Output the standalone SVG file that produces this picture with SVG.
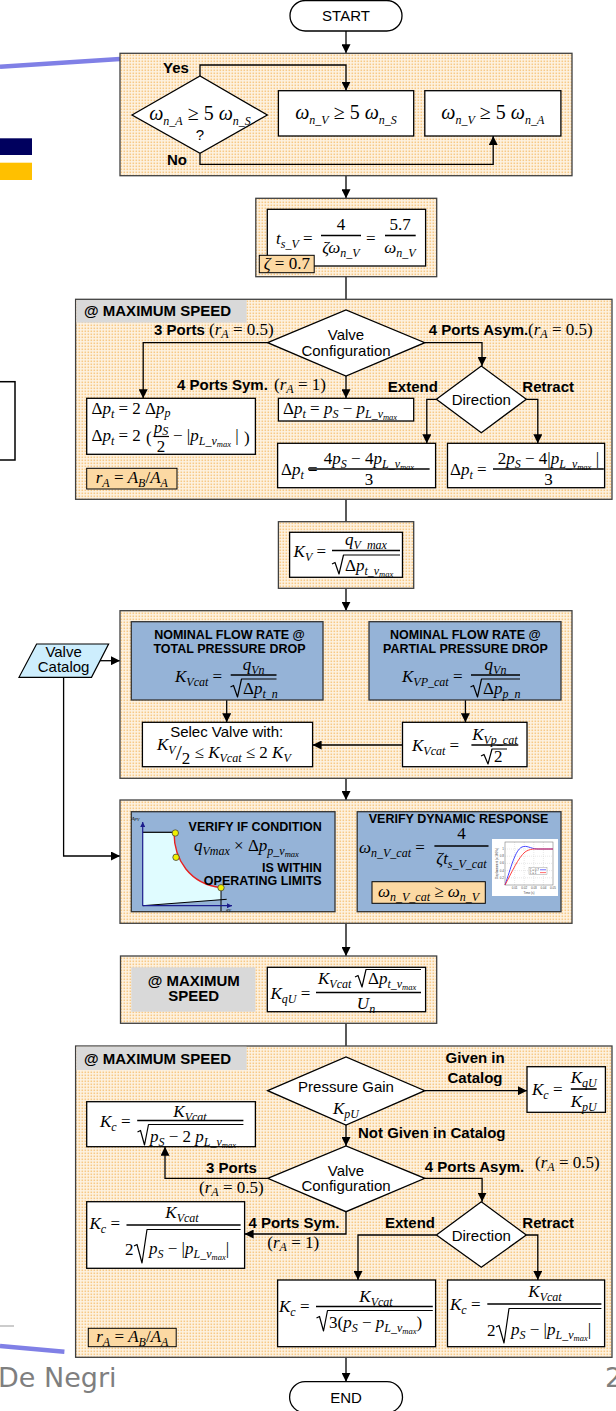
<svg xmlns="http://www.w3.org/2000/svg" width="616" height="1411" viewBox="0 0 616 1411">
<defs>
<pattern id="dots" width="3" height="3" patternUnits="userSpaceOnUse"><rect width="3" height="3" fill="#fef3e2"/><rect x="0.5" y="0.5" width="1.6" height="1.6" fill="#f7c987"/></pattern>
<marker id="ah" viewBox="0 0 10 10" refX="10" refY="5" markerWidth="9" markerHeight="9" markerUnits="userSpaceOnUse" orient="auto"><path d="M0,0L10,5L0,10z" fill="#000"/></marker>
<marker id="ax" viewBox="0 0 10 10" refX="10" refY="5" markerWidth="5" markerHeight="5" markerUnits="userSpaceOnUse" orient="auto"><path d="M0,0L10,5L0,10z" fill="#1c1c8c"/></marker>
<style>
.lb{font-family:"Liberation Sans",Arial,sans-serif;font-weight:bold;font-size:15px}
.tx{font-family:"Liberation Sans",Arial,sans-serif;font-size:15px}
.hd{font-family:"Liberation Sans",Arial,sans-serif;font-weight:bold;font-size:12.5px}
.m{font-family:"Liberation Serif","Times New Roman",serif;font-size:17px;font-style:italic}
.big{font-size:20px}
.u{font-style:normal}
.s{font-size:12px}
.s2{font-size:8.5px}
.c{text-anchor:middle}
.e{text-anchor:end}
.box{fill:#fff;stroke:#000;stroke-width:1.3}
.grp{fill:url(#dots);stroke:#404040;stroke-width:1.3}
.blue{fill:#95b3d7;stroke:#333;stroke-width:1.3}
.tag{fill:#fcd9a3;stroke:#000;stroke-width:1}
.hdr{fill:#d9d9d9}
.bar{stroke:#000;stroke-width:1.6}
.vin{stroke:#000;stroke-width:1.2}
.rad{fill:none;stroke:#000;stroke-width:1.2;stroke-linejoin:round}
.cn{fill:none;stroke:#000;stroke-width:1.3}
.arr{marker-end:url(#ah)}
.tiny{font-family:"Liberation Sans",Arial,sans-serif;font-size:3px;fill:#444}
</style>
</defs>
<rect width="616" height="1411" fill="#fff"/>

<!-- slide backdrop -->
<g id="backdrop">
<path d="M0,66.7L120,59" stroke="#8080e6" stroke-width="4.5" fill="none"/>
<rect x="0" y="138.3" width="32" height="16.7" fill="#00005e"/>
<rect x="0" y="162.7" width="32" height="17.3" fill="#ffc000"/>
<rect x="-5" y="381.7" width="20" height="78.3" fill="#fff" stroke="#000" stroke-width="1.5"/>
<path d="M0,1326H14" stroke="#999" stroke-width="1"/>
<path d="M0,1346L64.4,1351.7" stroke="#8080e6" stroke-width="4.5" fill="none"/>
<text x="-2" y="1387" font-family="DejaVu Sans,Verdana,sans-serif" font-size="27" fill="#7f7f7f">De Negri</text>
<text x="605" y="1387" font-family="DejaVu Sans,Verdana,sans-serif" font-size="27" fill="#7f7f7f">2</text>
</g>

<!-- connectors -->
<g id="connectors">
<path class="cn arr" d="M346,31V53.3"/>
<path class="cn arr" d="M200,76V65H346V90.7"/>
<path class="cn arr" d="M200,153.3V164.3H493.2V136"/>
<path class="cn arr" d="M346,175.7V198.3"/>
<path class="cn arr" d="M346,276.7V310"/>
<path class="cn arr" d="M267.7,342.7H143.2V398.3"/>
<path class="cn arr" d="M346,376V398.3"/>
<path class="cn arr" d="M424.8,342.7H482V366"/>
<path class="cn arr" d="M436.4,399.3H426.8V443.3"/>
<path class="cn arr" d="M526.3,399.3H537.8V443.3"/>
<path class="cn arr" d="M346,499.3V532.3"/>
<path class="cn arr" d="M346,577.3V610.7"/>
<path class="cn arr" d="M226.7,700V722.3"/>
<path class="cn arr" d="M465.4,700V722.3"/>
<path class="cn arr" d="M402.5,745H312.6"/>
<path class="cn arr" d="M100,660.7H120"/>
<path class="cn arr" d="M63.6,677.3V856H120"/>
<path class="cn arr" d="M346,778.3V800"/>
<path class="cn arr" d="M346,923.3V956"/>
<path class="cn arr" d="M346,1011.7V1057"/>
<path class="cn arr" d="M424.8,1090.7H527"/>
<path class="cn arr" d="M346,1125V1146"/>
<path class="cn arr" d="M267.7,1178.3H165V1146.7"/>
<path class="cn arr" d="M424.8,1178.3H482.1V1201.7"/>
<path class="cn arr" d="M346,1211.7V1234H244.6"/>
<path class="cn arr" d="M436.4,1235H358V1280"/>
<path class="cn arr" d="M526.3,1235H537.8V1280"/>
<path class="cn arr" d="M346,1357.3V1381.7"/>
</g>

<g id="start">
<rect x="290" y="0.5" width="112" height="30.5" rx="15.25" class="box"/>
<text x="346" y="21" class="tx c">START</text>
</g>

<!-- natural frequency check -->
<g id="freq">
<rect x="120" y="53.3" width="452" height="122.4" class="grp"/>
<path class="cn arr" d="M200,76V65H346V90.7"/>
<path class="cn arr" d="M200,153.3V164.3H493.2V136"/>
<polygon points="132,115 200,76 267.3,115 200,153.3" class="box"/>
<text x="200" y="120" class="m big c">ω<tspan class="s" font-size="14" dy="4.5">n_A</tspan><tspan class="u" dy="-4.5"> ≥ 5 </tspan>ω<tspan class="s" font-size="14" dy="4.5">n_S</tspan></text>
<text x="200" y="140" class="tx c" font-size="14">?</text>
<text x="163" y="72.7" class="lb">Yes</text>
<text x="167" y="165" class="lb">No</text>
<rect x="278.4" y="90.7" width="135.3" height="45.3" class="box"/>
<text x="346" y="119" class="m big c">ω<tspan class="s" font-size="14" dy="4.5">n_V</tspan><tspan class="u" dy="-4.5"> ≥ 5 </tspan>ω<tspan class="s" font-size="14" dy="4.5">n_S</tspan></text>
<rect x="424.8" y="90.7" width="136.1" height="45.3" class="box"/>
<text x="492.8" y="119" class="m big c">ω<tspan class="s" font-size="14" dy="4.5">n_V</tspan><tspan class="u" dy="-4.5"> ≥ 5 </tspan>ω<tspan class="s" font-size="14" dy="4.5">n_A</tspan></text>
</g>

<!-- settling time -->
<g id="settling">
<rect x="255.8" y="198.3" width="180.9" height="78.4" class="grp"/>
<rect x="267.3" y="209.3" width="158.3" height="56.7" class="box"/>
<text x="276" y="244" class="m" font-size="18">t<tspan class="s" dy="4">s_V</tspan><tspan class="u" dy="-4"> =</tspan></text>
<text x="341" y="229.5" class="m u c" font-size="18">4</text>
<line x1="321" y1="235.5" x2="361" y2="235.5" class="bar"/>
<text x="341" y="253" class="m c" font-size="18">ζω<tspan class="s" dy="4">n_V</tspan></text>
<text x="366" y="244" class="m u" font-size="18">=</text>
<text x="400" y="229.5" class="m u c" font-size="18">5.7</text>
<line x1="385" y1="235.5" x2="415.7" y2="235.5" class="bar"/>
<text x="400" y="253" class="m c" font-size="18">ω<tspan class="s" dy="4">n_V</tspan></text>
<rect x="259.3" y="255.3" width="54.9" height="17.4" class="tag"/>
<text x="286.8" y="269" class="m c">ζ<tspan class="u"> = 0.7</tspan></text>
</g>

<!-- pressure drop at maximum speed -->
<g id="pressure-drop">
<rect x="75.6" y="299.3" width="536.4" height="200" class="grp"/>
<rect x="76.3" y="300" width="170.3" height="22.7" class="hdr"/>
<text x="84" y="316" class="lb">@ MAXIMUM SPEED</text>
<path class="cn arr" d="M267.7,342.7H143.2V398.3"/>
<path class="cn arr" d="M346,376V398.3"/>
<path class="cn arr" d="M424.8,342.7H482V366"/>
<path class="cn arr" d="M436.4,399.3H426.8V443.3"/>
<path class="cn arr" d="M526.3,399.3H537.8V443.3"/>
<polygon points="267.7,342.7 346,310 424.8,342.7 346,376" class="box"/>
<text x="346" y="340" class="tx c" font-size="14.5">Valve</text>
<text x="346" y="355.5" class="tx c" font-size="14.5">Configuration</text>
<text x="154" y="335" class="lb">3 Ports</text>
<text x="209" y="335" class="m" font-size="16"><tspan class="u">(</tspan>r<tspan class="s" dy="3">A</tspan><tspan class="u" dy="-3"> =  0.5)</tspan></text>
<text x="428.8" y="335" class="lb">4 Ports Asym.</text>
<text x="528" y="335" class="m" font-size="16"><tspan class="u">(</tspan>r<tspan class="s" dy="3">A</tspan><tspan class="u" dy="-3"> =  0.5)</tspan></text>
<text x="177" y="390" class="lb">4 Ports Sym.</text>
<text x="274" y="390" class="m" font-size="16"><tspan class="u">(</tspan>r<tspan class="s" dy="3">A</tspan><tspan class="u" dy="-3"> =  1)</tspan></text>
<text x="387.8" y="391.7" class="lb">Extend</text>
<text x="522.3" y="391.7" class="lb">Retract</text>
<polygon points="436.4,399.3 481.3,366 526.3,399.3 481.3,432.7" class="box"/>
<text x="481.3" y="404.5" class="tx c">Direction</text>
<rect x="86.7" y="398.3" width="168.7" height="56" class="box"/>
<text x="91.5" y="414" class="m"><tspan class="u">Δ</tspan>p<tspan class="s" dy="3.5">t</tspan><tspan class="u" dy="-3.5"> = 2 Δ</tspan>p<tspan class="s" dy="2.5">p</tspan></text>
<text x="91.5" y="441" class="m"><tspan class="u">Δ</tspan>p<tspan class="s" dy="4">t</tspan><tspan class="u" dy="-4"> = 2</tspan></text>
<text x="146" y="443" class="m u" font-size="22">(</text>
<text x="161" y="432.5" class="m c" font-size="13">p<tspan class="s" dy="2.5" font-size="9">S</tspan></text>
<line x1="154" y1="436.5" x2="169" y2="436.5" class="vin"/>
<text x="161" y="451.5" class="m u c" font-size="13">2</text>
<text x="173" y="441" class="m"><tspan class="u">− |</tspan>p<tspan class="s" dy="4">L_v</tspan><tspan class="s2" dy="2">max</tspan><tspan class="u" dy="-6"> |</tspan></text>
<text x="244" y="443" class="m u" font-size="22">)</text>
<rect x="86.7" y="468.3" width="90.3" height="20.7" class="tag"/>
<text x="131.8" y="483" class="m c" font-size="16">r<tspan class="s" dy="4">A</tspan><tspan class="u" dy="-4"> = </tspan>A<tspan class="s" dy="4">B</tspan><tspan class="u" dy="-4">/</tspan>A<tspan class="s" dy="4">A</tspan></text>
<rect x="278.4" y="398.3" width="135.3" height="22.7" class="box"/>
<text x="283" y="414" class="m"><tspan class="u">Δ</tspan>p<tspan class="s" dy="4">t</tspan><tspan class="u" dy="-4"> = </tspan>p<tspan class="s" dy="4">S</tspan><tspan class="u" dy="-4"> − </tspan>p<tspan class="s" dy="4">L_v</tspan><tspan class="s2" dy="2">max</tspan></text>
<rect x="277.6" y="443.3" width="158" height="44.4" class="box"/>
<text x="281" y="475" class="m"><tspan class="u">Δ</tspan>p<tspan class="s" dy="4">t</tspan><tspan class="u" dy="-4"> =</tspan></text>
<text x="369" y="464" class="m c"><tspan class="u">4</tspan>p<tspan class="s" dy="4">S</tspan><tspan class="u" dy="-4"> − 4</tspan>p<tspan class="s" dy="4">L_v</tspan><tspan class="s2" dy="2">max</tspan></text>
<line x1="308" y1="469" x2="429.6" y2="469" class="bar"/>
<text x="369" y="484.5" class="m u c">3</text>
<rect x="447.5" y="443.3" width="157.1" height="44.4" class="box"/>
<text x="450" y="475" class="m"><tspan class="u">Δ</tspan>p<tspan class="s" dy="4">t</tspan><tspan class="u" dy="-4"> =</tspan></text>
<text x="548.4" y="464" class="m c"><tspan class="u">2</tspan>p<tspan class="s" dy="4">S</tspan><tspan class="u" dy="-4"> − 4|</tspan>p<tspan class="s" dy="4">L_v</tspan><tspan class="s2" dy="2">max</tspan><tspan class="u" dy="-6"> |</tspan></text>
<line x1="493" y1="469" x2="603.8" y2="469" class="bar"/>
<text x="548.4" y="484.5" class="m u c">3</text>
</g>

<!-- required flow gain -->
<g id="flow-gain">
<rect x="278.4" y="521.7" width="135.3" height="66.6" class="grp"/>
<rect x="289.6" y="532.3" width="112.9" height="45" class="box"/>
<text x="293.6" y="557" class="m">K<tspan class="s" dy="4">V</tspan><tspan class="u" dy="-4"> =</tspan></text>
<text x="366" y="545" class="m c">q<tspan class="s" dy="4">V_max</tspan></text>
<line x1="332" y1="550.5" x2="400" y2="550.5" class="bar"/>
<path class="rad" d="M332,564L335,562.5L339,574L343.5,555H400"/>
<text x="345" y="570.5" class="m"><tspan class="u">Δ</tspan>p<tspan class="s" dy="4">t_v</tspan><tspan class="s2" dy="2">max</tspan></text>
</g>

<!-- valve catalogue input -->
<g id="catalog">
<polygon points="36.6,644 108.6,644 91.5,677.3 19,677.3" fill="#cdeefd" stroke="#000" stroke-width="1.2"/>
<text x="63.6" y="657" class="tx c" font-size="13.5">Valve</text>
<text x="63.6" y="671.5" class="tx c" font-size="13.5">Catalog</text>
</g>

<!-- nominal flow rate -->
<g id="nominal">
<rect x="120" y="610.7" width="452" height="167.6" class="grp"/>
<path class="cn arr" d="M226.7,700V722.3"/>
<path class="cn arr" d="M465.4,700V722.3"/>
<path class="cn arr" d="M402.5,745H312.6"/>
<rect x="131.3" y="621.7" width="191.7" height="78.3" class="blue"/>
<text x="229.5" y="638.5" class="hd c">NOMINAL FLOW RATE  @</text>
<text x="229.5" y="652.5" class="hd c">TOTAL PRESSURE DROP</text>
<text x="175" y="682" class="m">K<tspan class="s" dy="4">Vcat</tspan><tspan class="u" dy="-4"> =</tspan></text>
<text x="253.6" y="670" class="m c">q<tspan class="s" dy="4">Vn</tspan></text>
<line x1="230.7" y1="675" x2="276.5" y2="675" class="bar"/>
<path class="rad" d="M230.5,687L233.5,685.5L237.5,697L241.5,679H276.5"/>
<text x="243" y="694" class="m"><tspan class="u">Δ</tspan>p<tspan class="s" dy="4">t_n</tspan></text>
<rect x="369" y="621.7" width="192" height="78.3" class="blue"/>
<text x="465.4" y="638.5" class="hd c">NOMINAL FLOW RATE @</text>
<text x="465.4" y="652.5" class="hd c">PARTIAL PRESSURE DROP</text>
<text x="402" y="682" class="m">K<tspan class="s" dy="4">VP_cat</tspan><tspan class="u" dy="-4"> =</tspan></text>
<text x="495.5" y="670" class="m c">q<tspan class="s" dy="4">Vn</tspan></text>
<line x1="471" y1="675" x2="520" y2="675" class="bar"/>
<path class="rad" d="M470.5,687L473.5,685.5L477.5,697L481.5,679H520"/>
<text x="483" y="694" class="m"><tspan class="u">Δ</tspan>p<tspan class="s" dy="4">p_n</tspan></text>
<rect x="142.4" y="722.3" width="170.2" height="44.4" class="box"/>
<text x="226.7" y="737" class="tx c">Selec Valve with:</text>
<text x="157" y="750" class="m" font-size="16">K<tspan class="s" dy="4">V</tspan><tspan class="u" dy="6" font-size="22">/</tspan><tspan class="u" dy="4">2</tspan><tspan class="u" dy="-6"> ≤ </tspan>K<tspan class="s" dy="4">Vcat</tspan><tspan class="u" dy="-4"> ≤ 2 </tspan>K<tspan class="s" dy="4">V</tspan></text>
<rect x="402.5" y="722.3" width="124.5" height="44.4" class="box"/>
<text x="412" y="751" class="m">K<tspan class="s" dy="4">Vcat</tspan><tspan class="u" dy="-4"> =</tspan></text>
<text x="494.8" y="740" class="m c">K<tspan class="s" dy="4">Vp_cat</tspan></text>
<line x1="471.4" y1="745" x2="518.3" y2="745" class="bar"/>
<path class="rad" d="M481,756L484,754.5L488,764L492,749H507"/>
<text x="494" y="762" class="m u">2</text>
</g>

<!-- verification -->
<g id="verify">
<rect x="120" y="800" width="452" height="123.3" class="grp"/>
<rect x="131.3" y="811.7" width="203.7" height="100" class="blue"/>
<path d="M142.7,832.3H174C174,860 190,884 221,887.7V899.5L142.7,905.7Z" fill="#e0fcff"/>
<path d="M142.7,832.3H174" stroke="#000" stroke-width="1.2" fill="none"/>
<path d="M174,832.3C174,860 190,884 221,887.7" stroke="#e82020" stroke-width="1.4" fill="none"/>
<path d="M142.7,905.7L226.7,899.3M221,887.7V911" stroke="#000" stroke-width="1" fill="none"/>
<path d="M142.7,905.7V822" stroke="#1c1c8c" stroke-width="1.2" fill="none" marker-end="url(#ax)"/>
<path d="M142.7,905.7H232" stroke="#1c1c8c" stroke-width="1.2" fill="none" marker-end="url(#ax)"/>
<circle cx="175.3" cy="833" r="3.2" fill="#f0f000" stroke="#444" stroke-width="0.8"/>
<circle cx="176" cy="857.3" r="3.2" fill="#f0f000" stroke="#444" stroke-width="0.8"/>
<circle cx="221" cy="887.7" r="3.2" fill="#f0f000" stroke="#444" stroke-width="0.8"/>
<text x="131.5" y="820" font-family="Liberation Serif,serif" font-style="italic" font-size="5">Δp<tspan font-size="4" dy="1">V</tspan></text>
<text x="226" y="911" font-family="Liberation Serif,serif" font-style="italic" font-size="5">q<tspan font-size="4" dy="1">V</tspan></text>
<text x="321.7" y="830.7" class="hd e">VERIFY IF CONDITION</text>
<text x="194" y="851" class="m">q<tspan class="s" dy="4">Vmax</tspan><tspan class="u" dy="-4">  × Δ</tspan>p<tspan class="s" dy="4">p_v</tspan><tspan class="s2" dy="2">max</tspan></text>
<text x="321.7" y="871.7" class="hd e">IS WITHIN</text>
<text x="321.7" y="885" class="hd e">OPERATING LIMITS</text>
<rect x="357.2" y="811.7" width="203.8" height="100" class="blue"/>
<text x="458.6" y="823.3" class="hd c">VERIFY DYNAMIC RESPONSE</text>
<text x="359" y="853" class="m">ω<tspan class="s" dy="4">n_V_cat</tspan><tspan class="u" dy="-4"> =</tspan></text>
<text x="461.4" y="839" class="m u c" font-size="18">4</text>
<line x1="434.4" y1="846" x2="488.5" y2="846" class="bar"/>
<text x="461.4" y="863.5" class="m c">ζt<tspan class="s" dy="4">s_V_cat</tspan></text>
<rect x="492" y="839" width="66" height="57" fill="#fff"/>
<g stroke="#c8c8c8" stroke-width="0.4" stroke-dasharray="1,1" fill="none">
<path d="M514.6,842V885M524.2,842V885M533.8,842V885M543.4,842V885M505,877.8H553M505,870.6H553M505,863.4H553M505,856.2H553M505,849H553"/>
</g>
<rect x="505" y="842" width="48" height="43" fill="none" stroke="#666" stroke-width="0.5"/>
<path d="M505,885C511,868 515,850 522,847C527,845 530,848.5 537,849L553,849" stroke="#3030ff" stroke-width="0.9" fill="none"/>
<path d="M505,885C512,872 518,858 525,852C530,848.5 535,849 540,849L553,849" stroke="#ff3030" stroke-width="0.9" fill="none"/>
<rect x="529" y="867.5" width="18" height="7" fill="#fff" stroke="#888" stroke-width="0.4"/>
<path d="M540,869.8H546" stroke="#3030ff" stroke-width="0.7"/>
<path d="M540,872.6H546" stroke="#ff3030" stroke-width="0.7"/>
<text x="530" y="870.8" class="tiny" font-size="2.5">ζ = 0.7</text>
<text x="530" y="873.6" class="tiny" font-size="2.5">ζ = 1</text>
<text x="514.6" y="889" class="tiny c">0.01</text>
<text x="524.2" y="889" class="tiny c">0.02</text>
<text x="533.8" y="889" class="tiny c">0.03</text>
<text x="543.4" y="889" class="tiny c">0.04</text>
<text x="553" y="889" class="tiny c">0.05</text>
<text x="529" y="893.5" class="tiny c">Time (s)</text>
<text x="504" y="879" class="tiny e">0.2</text>
<text x="504" y="871.6" class="tiny e">0.4</text>
<text x="504" y="864.4" class="tiny e">0.6</text>
<text x="504" y="857.2" class="tiny e">0.8</text>
<text x="504" y="850" class="tiny e">1</text>
<text x="0" y="0" class="tiny c" transform="translate(498 863.5) rotate(-90)">Displacement (x 100%)</text>
<rect x="372" y="881.7" width="113.3" height="21.6" class="tag"/>
<text x="428.6" y="897" class="m c">ω<tspan class="s" dy="4">n_V_cat</tspan><tspan class="u" dy="-4"> ≥ </tspan>ω<tspan class="s" dy="4">n_V</tspan></text>
</g>

<!-- flow gain per input signal -->
<g id="kqu">
<rect x="120.5" y="956" width="316.2" height="67.3" class="grp"/>
<rect x="131.3" y="967.3" width="124.1" height="44.4" class="hdr"/>
<text x="193.7" y="986" class="lb c">@ MAXIMUM</text>
<text x="193.7" y="1001" class="lb c">SPEED</text>
<rect x="267.3" y="967.3" width="158.3" height="44.4" class="box"/>
<text x="270.5" y="999" class="m">K<tspan class="s" dy="4">qU</tspan><tspan class="u" dy="-4"> =</tspan></text>
<text x="318" y="984" class="m">K<tspan class="s" dy="4">Vcat</tspan></text>
<path class="rad" d="M355,977L358,975.5L362,987L366,969.5H421"/>
<text x="368" y="984" class="m"><tspan class="u">Δ</tspan>p<tspan class="s" dy="4">t_v</tspan><tspan class="s2" dy="2">max</tspan></text>
<line x1="316" y1="992.5" x2="421" y2="992.5" class="bar"/>
<text x="366" y="1008.5" class="m c">U<tspan class="s" dy="4">n</tspan></text>
</g>

<!-- pressure-flow coefficient -->
<g id="kc">
<rect x="75.6" y="1046" width="536.4" height="311.3" class="grp"/>
<rect x="76.3" y="1046.7" width="170.3" height="23.3" class="hdr"/>
<text x="84" y="1063.5" class="lb">@ MAXIMUM SPEED</text>
<path class="cn arr" d="M424.8,1090.7H527"/>
<path class="cn arr" d="M346,1125V1146"/>
<path class="cn arr" d="M267.7,1178.3H165V1146.7"/>
<path class="cn arr" d="M424.8,1178.3H482.1V1201.7"/>
<path class="cn arr" d="M346,1211.7V1234H244.6"/>
<path class="cn arr" d="M436.4,1235H358V1280"/>
<path class="cn arr" d="M526.3,1235H537.8V1280"/>
<polygon points="267.7,1090.7 346,1057 424.8,1090.7 346,1125" class="box"/>
<text x="346" y="1092" class="tx c">Pressure Gain</text>
<text x="346" y="1114" class="m c" font-size="19">K<tspan class="s" dy="4" font-size="13">pU</tspan></text>
<text x="445.5" y="1063.3" class="lb">Given in</text>
<text x="447.5" y="1083.3" class="lb">Catalog</text>
<rect x="527" y="1066.7" width="78.4" height="45.6" class="box"/>
<text x="532" y="1095" class="m">K<tspan class="s" dy="4">c</tspan><tspan class="u" dy="-4"> =</tspan></text>
<text x="583.7" y="1083" class="m c">K<tspan class="s" dy="4">qU</tspan></text>
<line x1="570.8" y1="1089" x2="596.7" y2="1089" class="bar"/>
<text x="583.7" y="1106.5" class="m c">K<tspan class="s" dy="4">pU</tspan></text>
<text x="358" y="1138.3" class="lb">Not Given in Catalog</text>
<polygon points="267.7,1178.3 346,1146 424.8,1178.3 346,1211.7" class="box"/>
<text x="346" y="1176" class="tx c" font-size="14.5">Valve</text>
<text x="346" y="1191" class="tx c" font-size="14.5">Configuration</text>
<rect x="86.7" y="1101.7" width="168.7" height="45" class="box"/>
<text x="100" y="1127" class="m">K<tspan class="s" dy="4">c</tspan><tspan class="u" dy="-4"> =</tspan></text>
<text x="190" y="1116.5" class="m c">K<tspan class="s" dy="4">Vcat</tspan></text>
<line x1="137.2" y1="1120.5" x2="243.4" y2="1120.5" class="bar"/>
<path class="rad" d="M137.5,1132L140.5,1130.5L144.5,1145L148.5,1124.5H243.4"/>
<text x="150" y="1141.5" class="m">p<tspan class="s" dy="4">S</tspan><tspan class="u" dy="-4"> − 2 </tspan>p<tspan class="s" dy="4">L_v</tspan><tspan class="s2" dy="2">max</tspan></text>
<text x="206" y="1173.3" class="lb">3 Ports</text>
<text x="199" y="1193.3" class="m" font-size="16"><tspan class="u">(</tspan>r<tspan class="s" dy="3">A</tspan><tspan class="u" dy="-3"> =  0.5)</tspan></text>
<text x="424.8" y="1171.7" class="lb">4 Ports Asym.</text>
<text x="535" y="1168.3" class="m" font-size="16"><tspan class="u">(</tspan>r<tspan class="s" dy="3">A</tspan><tspan class="u" dy="-3"> =  0.5)</tspan></text>
<polygon points="436.4,1235 481.3,1201.7 526.3,1235 481.3,1267.3" class="box"/>
<text x="481.3" y="1240.5" class="tx c">Direction</text>
<text x="248.6" y="1228.3" class="lb">4 Ports Sym.</text>
<text x="267.3" y="1248.3" class="m" font-size="16"><tspan class="u">(</tspan>r<tspan class="s" dy="3">A</tspan><tspan class="u" dy="-3"> =  1)</tspan></text>
<text x="385" y="1228.3" class="lb">Extend</text>
<text x="522.3" y="1228.3" class="lb">Retract</text>
<rect x="86.7" y="1201.7" width="157.9" height="66.6" class="box"/>
<text x="89.5" y="1229" class="m">K<tspan class="s" dy="4">c</tspan><tspan class="u" dy="-4"> =</tspan></text>
<text x="182" y="1218" class="m c">K<tspan class="s" dy="4">Vcat</tspan></text>
<line x1="126.5" y1="1225" x2="240.6" y2="1225" class="bar"/>
<text x="125" y="1255" class="m u">2</text>
<path class="rad" d="M134,1246L137,1244.5L142,1263L147,1229.5H240.6"/>
<text x="149" y="1254" class="m">p<tspan class="s" dy="4">S</tspan><tspan class="u" dy="-4"> − |</tspan>p<tspan class="s" dy="4">L_v</tspan><tspan class="s2" dy="2">max</tspan><tspan class="u" dy="-6">|</tspan></text>
<rect x="277.6" y="1280" width="158" height="66.7" class="box"/>
<text x="279" y="1312" class="m">K<tspan class="s" dy="4">c</tspan><tspan class="u" dy="-4"> =</tspan></text>
<text x="376" y="1302" class="m c">K<tspan class="s" dy="4">Vcat</tspan></text>
<line x1="316" y1="1306.5" x2="432.8" y2="1306.5" class="bar"/>
<path class="rad" d="M316.5,1318L319.5,1316.5L323.5,1331L327.5,1310.5H432.8"/>
<text x="329" y="1327.5" class="m"><tspan class="u">3(</tspan>p<tspan class="s" dy="4">S</tspan><tspan class="u" dy="-4"> − </tspan>p<tspan class="s" dy="4">L_v</tspan><tspan class="s2" dy="2">max</tspan><tspan class="u" dy="-6">)</tspan></text>
<rect x="447.5" y="1280" width="157.1" height="66.7" class="box"/>
<text x="450" y="1310" class="m">K<tspan class="s" dy="4">c</tspan><tspan class="u" dy="-4"> =</tspan></text>
<text x="545" y="1297" class="m c">K<tspan class="s" dy="4">Vcat</tspan></text>
<line x1="487.3" y1="1304" x2="601.4" y2="1304" class="bar"/>
<text x="487" y="1336" class="m u">2</text>
<path class="rad" d="M496,1327L499,1325.5L504,1343L509,1308.5H601.4"/>
<text x="511" y="1335" class="m">p<tspan class="s" dy="4">S</tspan><tspan class="u" dy="-4"> − |</tspan>p<tspan class="s" dy="4">L_v</tspan><tspan class="s2" dy="2">max</tspan><tspan class="u" dy="-6">|</tspan></text>
<rect x="88.3" y="1328.3" width="87.9" height="18.4" class="tag"/>
<text x="132.3" y="1342" class="m c" font-size="16">r<tspan class="s" dy="4">A</tspan><tspan class="u" dy="-4"> = </tspan>A<tspan class="s" dy="4">B</tspan><tspan class="u" dy="-4">/</tspan>A<tspan class="s" dy="4">A</tspan></text>
</g>

<g id="end">
<rect x="289.6" y="1381.7" width="112.9" height="31" rx="15.5" class="box"/>
<text x="346" y="1403" class="tx c">END</text>
</g>
</svg>
